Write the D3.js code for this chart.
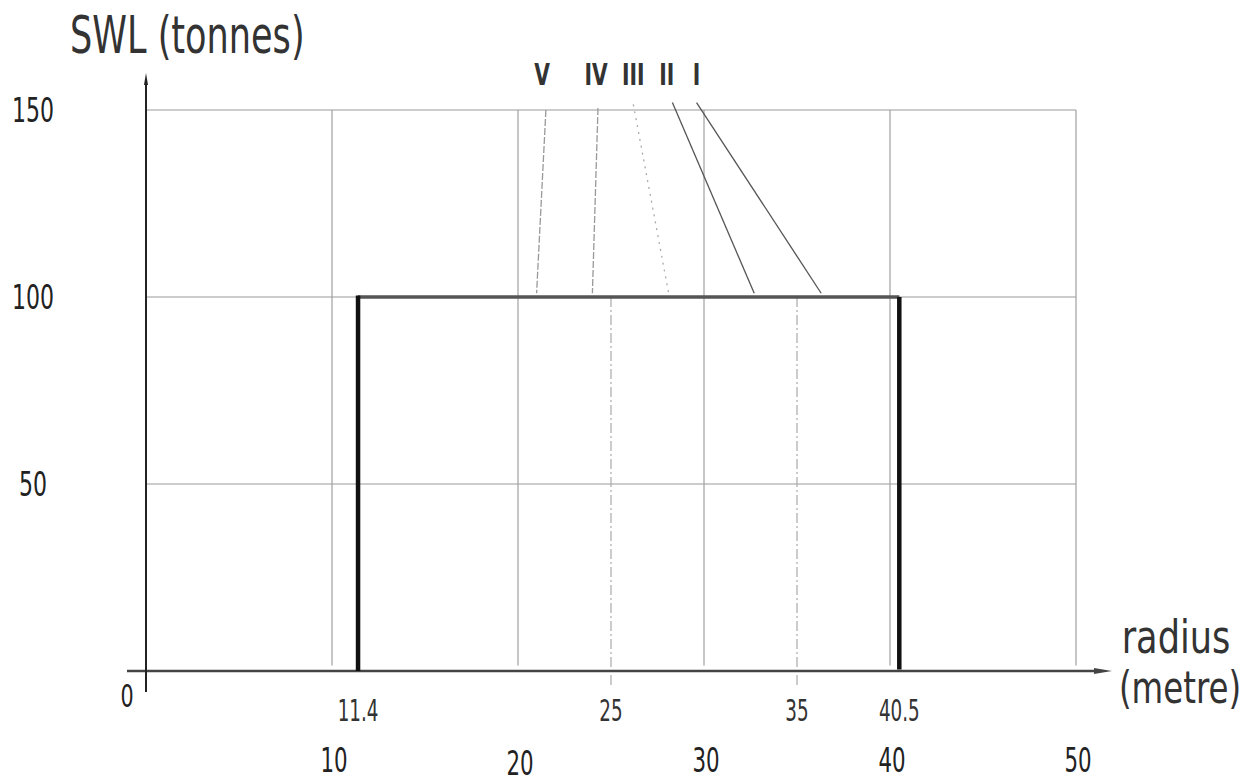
<!DOCTYPE html>
<html><head><meta charset="utf-8">
<script src="https://cdn.jsdelivr.net/npm/d3@7"></script>
<style>body{margin:0;background:#fff}svg{display:block}</style>
</head><body>
<svg id="c" width="1251" height="783"></svg>
<script>
// ---- data ----
const xMajorTicks = [10, 20, 30, 40, 50];
const xMinorTicks = [11.4, 25, 35, 40.5];
const xMinorTickLabels = ["11.4", "25", "35", "40.5"];
const yTicks = [50, 100, 150];
const curveRadius = [11.4, 11.4, 40.5, 40.5];
const curveSWL = [0, 100, 100, 0];
const configs = ["V", "IV", "III", "II", "I"];
const configLabelRadius = [21.3, 24.2, 26.2, 28.0, 29.6];
const configTopRadius = [21.5, 24.3, 26.2, 28.3, 29.6];
const configTopSWL = [150, 150.5, 151.5, 152, 152];
const configBottomRadius = [21.0, 24.0, 28.1, 32.7, 36.3];
const configBottomSWL = [101, 101, 101, 101, 101];
const gridRadius = [25, 35];

const svg = d3.select("#c");
const x = d3.scaleLinear().domain([0, 50]).range([146, 1076]);
const y = d3.scaleLinear().domain([0, 150]).range([671, 110]);
const font = "'Liberation Sans Narrow','DejaVu Sans Condensed',sans-serif";

function txt(tx, ty, s, size, opts = {}) {
  const sx = opts.sx || 0.8;
  svg.append("text")
    .attr("transform", `translate(${tx},${ty}) scale(${sx},1)`)
    .attr("text-anchor", opts.anchor || "middle")
    .attr("font-family", font)
    .attr("font-size", size)
    .attr("font-weight", opts.weight || "normal")
    .attr("fill", opts.fill || "#222")
    .text(s);
}

// grid
svg.append("g").selectAll("line").data(yTicks).join("line")
  .attr("x1", x(0)).attr("x2", x(50)).attr("y1", d => y(d)).attr("y2", d => y(d))
  .attr("stroke", "#9a9a9a").attr("stroke-width", 1.2);
svg.append("g").selectAll("line").data(xMajorTicks).join("line")
  .attr("x1", d => x(d)).attr("x2", d => x(d)).attr("y1", y(150)).attr("y2", y(1.5))
  .attr("stroke", "#a0a0a0").attr("stroke-width", 1.2);
svg.append("g").selectAll("line").data(gridRadius).join("line")
  .attr("x1", d => x(d)).attr("x2", d => x(d)).attr("y1", y(100)).attr("y2", y(-4))
  .attr("stroke", "#aaa").attr("stroke-width", 1.2).attr("stroke-dasharray", "10,3,2,3");

// config lines
const cfgStyle = [
  {c: "#999", d: "7,2"}, {c: "#999", d: "7,2"}, {c: "#aaa", d: "2,5"},
  {c: "#555", d: null}, {c: "#555", d: null}];
svg.append("g").selectAll("line").data(configs).join("line")
  .attr("x1", (d, i) => x(configTopRadius[i])).attr("y1", (d, i) => y(configTopSWL[i]))
  .attr("x2", (d, i) => x(configBottomRadius[i])).attr("y2", (d, i) => y(configBottomSWL[i]))
  .attr("stroke", (d, i) => cfgStyle[i].c).attr("stroke-width", 1.3)
  .attr("stroke-dasharray", (d, i) => cfgStyle[i].d);
configs.forEach((c, i) => txt(x(configLabelRadius[i]), 85, c, 30, {weight: "bold", sx: 0.75, fill: "#333"}));

// axes
svg.append("line").attr("x1", 127).attr("x2", 1098).attr("y1", y(0)).attr("y2", y(0))
  .attr("stroke", "#444").attr("stroke-width", 2.5);
svg.append("path").attr("d", `M1112,${y(0)} L1094,${y(0) - 3} L1094,${y(0) + 3} Z`).attr("fill", "#444");
svg.append("line").attr("x1", x(0)).attr("x2", x(0)).attr("y1", 692).attr("y2", 80)
  .attr("stroke", "#222").attr("stroke-width", 2);
svg.append("path").attr("d", `M${x(0)},73 L${x(0) - 2},85 L${x(0) + 2},85 Z`).attr("fill", "#222");

// load curve
const pts = curveRadius.map((r, i) => [x(r), y(curveSWL[i])]);
svg.append("line").attr("x1", pts[1][0]).attr("y1", pts[1][1]).attr("x2", pts[2][0]).attr("y2", pts[2][1])
  .attr("stroke", "#555").attr("stroke-width", 3.5);
[[0, 1], [2, 3]].forEach(([a, b]) => svg.append("line")
  .attr("x1", pts[a][0]).attr("y1", pts[a][1]).attr("x2", pts[b][0]).attr("y2", pts[b][1] - 1.5)
  .attr("stroke", "#111").attr("stroke-width", 4.5));

// tick labels
yTicks.forEach(v => txt(33, y(v) + 12, String(v), 34, {sx: 0.72}));
txt(127, 707, "0", 32, {sx: 0.72});
xMinorTicks.forEach((v, i) => txt(x(v), 721, xMinorTickLabels[i], 30, {sx: 0.68, fill: "#333"}));
xMajorTicks.forEach((v, i) => txt(x(v) + 2, i === 1 ? 775 : 772, String(v), 33, {sx: 0.72}));

// titles
txt(70, 53, "SWL (tonnes)", 52, {anchor: "start", sx: 0.75, fill: "#333"});
txt(1176, 653, "radius", 46, {sx: 0.85, fill: "#333"});
txt(1180, 703, "(metre)", 44, {sx: 0.82, fill: "#333"});
</script>
</body></html>
